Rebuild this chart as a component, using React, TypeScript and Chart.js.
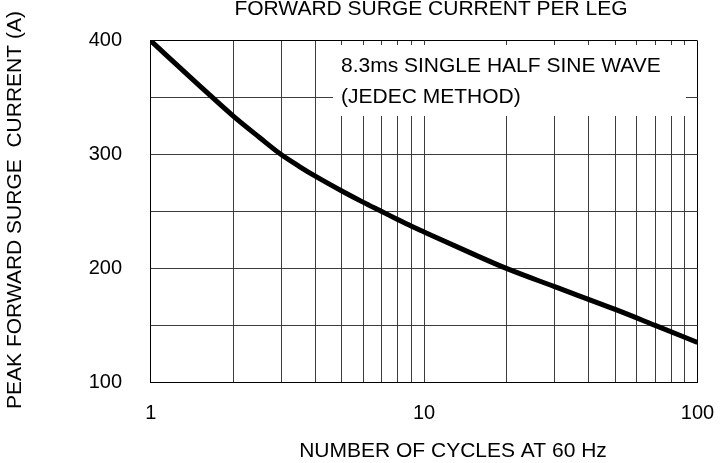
import React, { useEffect, useRef } from 'react';
import { Chart, registerables } from 'chart.js';

Chart.register(...registerables);

// ---- data ----
const cycles = [1, 1.5, 2, 2.5, 3, 3.5, 4, 5, 6, 7, 8, 9, 10, 15, 20, 30, 50, 70, 100];
const surgeCurrent = [400, 361, 334, 315, 300, 289.5, 281, 268, 258, 250, 243, 237, 232, 213, 200, 184, 164, 150, 135];
const xGridValues = [1, 2, 3, 4, 5, 6, 7, 8, 9, 10, 20, 30, 40, 50, 60, 70, 80, 90, 100];
const xTickLabels = [1, 10, 100];
const yTickLabels = [100, 200, 300, 400];
const yGridStep = 50;
const chartTitle = 'FORWARD SURGE CURRENT PER LEG';
const xTitle = 'NUMBER OF CYCLES AT 60 Hz';
const yTitle = 'PEAK FORWARD SURGE  CURRENT (A)';
const noteLines = ['8.3ms SINGLE HALF SINE WAVE', '(JEDEC METHOD)'];

const FONT = "'Liberation Sans', Arial, Helvetica, sans-serif";
const GRID = '#3c3c3c';

const textPlugin = {
  id: 'textPlugin',
  afterDraw(chart: any) {
    const { ctx } = chart;
    ctx.save();
    ctx.fillStyle = '#000';
    ctx.font = `21px ${FONT}`;
    ctx.textBaseline = 'alphabetic';
    ctx.textAlign = 'center';
    ctx.fillText(chartTitle, 431, 15);
    ctx.fillText(xTitle, 453, 457);

    ctx.save();
    ctx.translate(21, 210);
    ctx.rotate(-Math.PI / 2);
    ctx.fillText(yTitle, 0, 0);
    ctx.restore();

    ctx.fillStyle = '#fff';
    ctx.fillRect(333, 45, 353, 71);
    ctx.fillStyle = '#000';
    ctx.textAlign = 'left';
    ctx.fillText(noteLines[0], 341, 72);
    ctx.fillText(noteLines[1], 341, 103);
    ctx.restore();
  },
};

export default function App() {
  const canvasRef = useRef<HTMLCanvasElement | null>(null);

  useEffect(() => {
    const canvas = canvasRef.current;
    if (!canvas) return;
    const chart = new Chart(canvas, {
      type: 'line',
      data: {
        datasets: [
          {
            data: cycles.map((x, i) => ({ x, y: surgeCurrent[i] })),
            borderColor: '#000',
            borderWidth: 5,
            pointRadius: 0,
            cubicInterpolationMode: 'monotone',
            fill: false,
          },
        ],
      },
      options: {
        animation: false,
        responsive: false,
        devicePixelRatio: 1,
        layout: { padding: { top: 40.7, right: 22.5, bottom: 0, left: 0 } },
        plugins: {
          legend: { display: false },
          tooltip: { enabled: false },
          title: { display: false },
        },
        scales: {
          x: {
            type: 'logarithmic',
            min: 1,
            max: 100,
            afterBuildTicks: (s: any) => {
              s.ticks = xGridValues.map((v) => ({ value: v }));
            },
            afterFit: (s: any) => {
              s.height = 80.7;
              s.paddingLeft = 0;
              s.paddingRight = 0;
            },
            ticks: {
              autoSkip: false,
              maxRotation: 0,
              minRotation: 0,
              padding: 19.4,
              color: '#000',
              font: { family: FONT, size: 20 },
              callback: (v: any) => (xTickLabels.includes(Number(v)) ? String(v) : ''),
            },
            grid: {
              color: (c: any) => (c.tick && c.tick.value === 100 ? '#000' : GRID),
              lineWidth: 1,
              drawTicks: false,
            },
            border: { display: true, color: '#000', width: 1 },
          },
          y: {
            type: 'linear',
            min: 100,
            max: 400,
            afterFit: (s: any) => {
              s.width = 150.7;
              s.paddingTop = 0;
              s.paddingBottom = 0;
            },
            ticks: {
              stepSize: yGridStep,
              padding: 28.7,
              color: '#000',
              font: { family: FONT, size: 20 },
              callback: (v: any) => (yTickLabels.includes(Number(v)) ? String(v) : ''),
            },
            grid: {
              color: (c: any) => (c.tick && c.tick.value === 400 ? '#000' : GRID),
              lineWidth: 1,
              drawTicks: false,
            },
            border: { display: true, color: '#000', width: 1 },
          },
        },
      },
      plugins: [textPlugin],
    } as any);
    return () => chart.destroy();
  }, []);

  return (
    <div style={{ position: 'fixed', left: 0, top: 0, width: 720, height: 463, background: '#fff' }}>
      <canvas ref={canvasRef} width={720} height={463} style={{ display: 'block' }} />
    </div>
  );
}
